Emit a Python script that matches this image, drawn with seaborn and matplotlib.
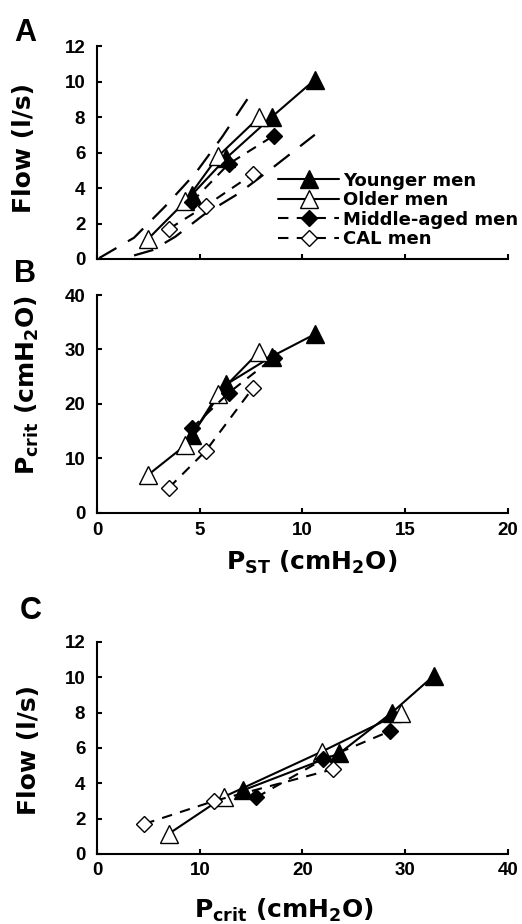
import numpy as np
import pandas as pd
import seaborn as sns
import matplotlib.pyplot as plt

# values (per group: P_ST, P_crit, flow)
groups = ['Younger men', 'Older men', 'Middle-aged men', 'CAL men']

young_pst = [4.6, 6.3, 8.5, 10.6]
young_pcrit = [14.2, 23.6, 28.7, 32.8]
young_flow = [3.6, 5.7, 8.0, 10.1]

older_pst = [2.5, 4.3, 5.9, 7.9]
older_pcrit = [7.0, 12.4, 21.9, 29.6]
older_flow = [1.15, 3.25, 5.8, 8.0]

middle_pst = [4.6, 6.4, 8.6]
middle_pcrit = [15.5, 22.0, 28.5]
middle_flow = [3.2, 5.35, 6.95]

cal_pst = [3.5, 5.3, 7.6]
cal_pcrit = [4.6, 11.4, 23.0]
cal_flow = [1.7, 3.0, 4.8]

# long-dashed band lines of panel A
band_hi_pst = [0.1, 1.8, 3.3, 4.8, 6.1, 7.6]
band_hi_flow = [0.05, 1.2, 2.95, 4.85, 6.9, 9.5]
band_lo_pst = [1.8, 2.7, 3.8, 5.2, 6.9, 8.5, 10.6]
band_lo_flow = [0.2, 0.5, 1.25, 2.5, 3.7, 5.1, 7.0]

rows = []
for name, pst, pcrit, flow in zip(groups,
                                  [young_pst, older_pst, middle_pst, cal_pst],
                                  [young_pcrit, older_pcrit, middle_pcrit, cal_pcrit],
                                  [young_flow, older_flow, middle_flow, cal_flow]):
    for a, b, c in zip(pst, pcrit, flow):
        rows.append((name, a, b, c))
df = pd.DataFrame(rows, columns=['group', 'pst', 'pcrit', 'flow'])

sns.set_style('ticks')
plt.rcParams['font.family'] = ['DejaVu Sans']
plt.rcParams['font.weight'] = 'bold'
plt.rcParams['mathtext.fontset'] = 'dejavusans'
plt.rcParams['mathtext.default'] = 'bf'
plt.rcParams['text.color'] = 'black'
plt.rcParams['axes.labelcolor'] = 'black'
plt.rcParams['xtick.color'] = 'black'
plt.rcParams['ytick.color'] = 'black'

short_dash = (0, (5, 4))
styles = {
    'Younger men': dict(marker='^', markersize=13, markerfacecolor='black', linestyle='-'),
    'Older men': dict(marker='^', markersize=13, markerfacecolor='white', linestyle='-'),
    'Middle-aged men': dict(marker='D', markersize=8.5, markerfacecolor='black', linestyle=short_dash),
    'CAL men': dict(marker='D', markersize=8.5, markerfacecolor='white', linestyle=short_dash),
}

fig = plt.figure(figsize=(5.22, 9.24), dpi=100)
axA = fig.add_axes([0.186, 0.7197, 0.787, 0.2305])
axB = fig.add_axes([0.186, 0.4451, 0.787, 0.2356])
axC = fig.add_axes([0.186, 0.0758, 0.787, 0.2294])

# bands in A
for bx, by in [(band_hi_pst, band_hi_flow), (band_lo_pst, band_lo_flow)]:
    sns.lineplot(x=bx, y=by, ax=axA, color='black', linewidth=1.6,
                 linestyle=(0, (9, 6)), sort=False, legend=False, errorbar=None)

for ax, xcol, ycol in [(axA, 'pst', 'flow'), (axB, 'pst', 'pcrit'), (axC, 'pcrit', 'flow')]:
    for g in groups:
        sub = df[df['group'] == g]
        sns.lineplot(data=sub, x=xcol, y=ycol, ax=ax, color='black', linewidth=1.5,
                     markeredgecolor='black', markeredgewidth=1.0, sort=False,
                     errorbar=None, legend=False, label=g, clip_on=False,
                     **styles[g])

tick_font = dict(labelsize=13.5, labelfontfamily='Liberation Sans')
for ax in (axA, axB, axC):
    for s in ['top', 'right']:
        ax.spines[s].set_visible(False)
    for s in ['left', 'bottom']:
        ax.spines[s].set_linewidth(1.5)
        ax.spines[s].set_color('black')
    ax.tick_params(direction='in', length=3.5, width=1.5, colors='black', **tick_font)
    ax.set_xlabel('')
    ax.set_ylabel('')

axA.set_xlim(0, 20)
axA.set_ylim(0, 12)
axA.set_xticks([0, 5, 10, 15, 20])
axA.set_xticklabels([])
axA.set_yticks([0, 2, 4, 6, 8, 10, 12])
axA.tick_params(axis='y', pad=8.5)

axB.set_xlim(0, 20)
axB.set_ylim(0, 40)
axB.set_xticks([0, 5, 10, 15, 20])
axB.set_yticks([0, 10, 20, 30, 40])
axB.tick_params(axis='y', pad=8.5)
axB.tick_params(axis='x', pad=7)

axC.set_xlim(0, 40)
axC.set_ylim(0, 12)
axC.set_xticks([0, 10, 20, 30, 40])
axC.set_yticks([0, 2, 4, 6, 8, 10, 12])
axC.tick_params(axis='y', pad=8.5)
axC.tick_params(axis='x', pad=5.5)

# axis labels
lab = dict(fontsize=18, fontweight='bold', color='black')
axA.set_ylabel('Flow (l/s)', **lab)
axA.yaxis.set_label_coords(-0.179, 0.523)
axB.set_ylabel(r'P$_{\mathbf{crit}}$ (cmH$_{\mathbf{2}}$O)', **lab)
axB.yaxis.set_label_coords(-0.169, 0.587)
axB.set_xlabel(r'P$_{\mathbf{ST}}$ (cmH$_{\mathbf{2}}$O)', **lab)
axB.xaxis.set_label_coords(0.523, -0.226)
axC.set_ylabel('Flow (l/s)', **lab)
axC.yaxis.set_label_coords(-0.166, 0.49)
axC.set_xlabel(r'P$_{\mathbf{crit}}$ (cmH$_{\mathbf{2}}$O)', **lab)
axC.xaxis.set_label_coords(0.454, -0.266)
for ax in (axA, axB, axC):
    ax.yaxis.label.set_va('center')
    ax.xaxis.label.set_va('center')

# legend in A
handles, labels = axA.get_legend_handles_labels()
leg = axA.legend(handles, labels, loc='upper left', bbox_to_anchor=(0.44, 0.41),
                 frameon=False, fontsize=13, handlelength=3.4, handletextpad=0.2,
                 labelspacing=0.08, borderpad=0, borderaxespad=0, numpoints=1)
for t in leg.get_texts():
    t.set_color('black')

# panel letters
for letter, px, py in [('A', 25, 33), ('B', 25, 274), ('C', 31, 611)]:
    fig.text(px / 522, 1 - py / 924, letter, ha='center', va='center', color='black',
             fontsize=22, fontweight='heavy', family='Liberation Sans')

fig.savefig('out.png', dpi=100, facecolor='white')
